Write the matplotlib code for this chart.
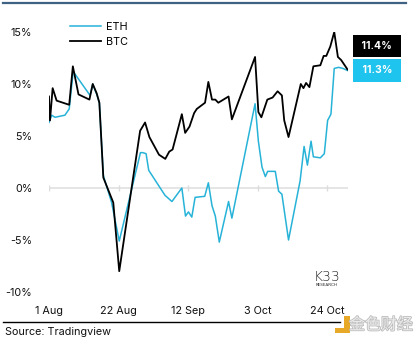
import matplotlib
matplotlib.use('Agg')
import matplotlib.pyplot as plt
import matplotlib.transforms as mtransforms
import matplotlib.patheffects as pe
from matplotlib.lines import Line2D
from matplotlib.patches import Rectangle

# Cumulative return since 1 Aug, in %, against days since 1 Aug
btc_days = [0.0, 0.3, 1.1, 2.3, 6.1, 7.2, 8.9, 12.2, 13.2, 14.4, 15.2, 16.4, 19.4, 21.2,
            27.5, 29.0, 30.3, 33.2, 35.1, 36.3, 37.3, 40.1, 41.1, 42.4, 43.8, 44.6, 47.1,
            48.1, 49.2, 50.2, 51.1, 54.2, 55.2, 62.2, 63.2, 64.1, 65.9, 67.5, 69.0, 70.3,
            71.0, 72.3, 76.0, 76.8, 77.6, 78.6, 79.8, 81.9, 82.9, 83.7, 84.9, 86.1, 87.2,
            88.2, 90.1]
btc_pct = [8.8, 6.5, 9.6, 8.4, 8.0, 11.7, 9.0, 8.5, 10.0, 9.1, 8.2, 1.0, -1.4, -8.0,
           5.5, 6.3, 4.9, 3.2, 2.8, 3.5, 3.7, 7.1, 5.3, 5.9, 7.2, 7.6, 8.2,
           10.2, 8.5, 8.5, 8.2, 8.8, 6.6, 12.6, 7.3, 6.8, 8.5, 8.7, 9.3, 8.9,
           6.5, 4.9, 10.0, 9.6, 10.1, 9.7, 11.7, 11.8, 12.7, 12.7, 13.6, 15.0, 12.6,
           12.3, 11.4]

eth_days = [0.0, 0.8, 1.8, 4.8, 6.1, 7.3, 12.4, 13.2, 14.4, 15.2, 16.4, 18.9, 21.2,
            27.6, 28.3, 29.3, 30.1, 35.0, 37.1, 40.1, 41.2, 42.1, 43.1, 44.1, 47.0,
            48.1, 49.2, 50.2, 51.4, 54.2, 55.2, 62.2, 63.2, 64.3, 65.3, 66.0, 68.3,
            69.3, 70.3, 72.3, 75.8, 77.0, 78.0, 79.1, 79.8, 81.9, 83.1, 84.1, 85.1,
            86.1, 87.4, 88.7, 90.1]
eth_pct = [6.3, 7.0, 6.8, 7.0, 7.6, 11.2, 8.9, 10.0, 9.0, 8.2, 1.2, -1.4, -5.1,
           3.4, 3.4, 3.3, 1.7, -0.7, -1.3, 0.0, -2.7, -2.3, -2.8, -0.9, -0.8,
           0.5, -1.7, -2.7, -5.2, -1.3, -2.9, 8.1, 4.5, 2.0, 1.1, 1.6, 1.6,
           -0.3, -0.6, -5.0, 0.7, 4.0, 2.2, 4.5, 3.0, 2.9, 3.3, 6.5, 7.1,
           11.5, 11.6, 11.5, 11.3]

tick_days = [0, 21, 42, 63, 84]
tick_labels = ['1 Aug', '22 Aug', '12 Sep', '3 Oct', '24 Oct']
y_ticks = [-10, -5, 0, 5, 10, 15]

ETH_COLOR = '#27b3d8'
ETH_BOX = '#1ec3ee'

plt.rcParams['font.family'] = ['Inter', 'DejaVu Sans']

fig = plt.figure(figsize=(4.19, 3.44), dpi=100)
ax = fig.add_axes([49 / 419, 52 / 344, 298.5 / 419, 260 / 344])

ax.axhline(0, color='#e0e0e0', lw=1.2, zorder=1)
ax.plot(tick_days, [0] * len(tick_days), ls='none', marker='|', ms=5,
        mew=1, color='#dcdcdc', zorder=1)

ax.plot(eth_days, eth_pct, color=ETH_COLOR, lw=1.1, label='ETH', zorder=3)
ax.plot(btc_days, btc_pct, color='black', lw=1.3, label='BTC', zorder=4)

ax.set_xlim(min(btc_days), max(btc_days))
ax.set_ylim(-10, 15)
ax.set_xticks(tick_days)
ax.set_xticklabels(tick_labels)
ax.set_yticks(y_ticks)
ax.set_yticklabels([f'{t}%' for t in y_ticks])
ax.tick_params(axis='both', length=0, labelsize=7.8, colors='#111111')
ax.tick_params(axis='x', pad=10)
ax.tick_params(axis='y', pad=12)
for s in ax.spines.values():
    s.set_visible(False)

fig.legend(loc='upper left', bbox_to_anchor=(70 / 419, 1 - 22 / 344),
           frameon=False, fontsize=7.8, handlelength=2.9, handletextpad=0.45,
           labelspacing=0.45, borderpad=0, borderaxespad=0)

# last-value boxes on the right
tr = mtransforms.blended_transform_factory(fig.transFigure, ax.transData)
box_x = 377 / 419
ax.text(box_x, btc_pct[-1] + 2.25, f' {btc_pct[-1]:.1f}% ', transform=tr,
        ha='center', va='center', color='white', fontsize=7.5, fontweight='bold',
        bbox=dict(boxstyle='square,pad=0.62', fc='black', ec='none'), clip_on=False)
ax.text(box_x, eth_pct[-1], f' {eth_pct[-1]:.1f}% ', transform=tr,
        ha='center', va='center', color='white', fontsize=7.5, fontweight='bold',
        bbox=dict(boxstyle='square,pad=0.62', fc=ETH_BOX, ec='none'), clip_on=False)

# header and footer rules
fig.add_artist(Line2D([3 / 419, 406 / 419], [1 - 3 / 344] * 2, color='#3f6182', lw=1.6))
fig.add_artist(Line2D([3 / 419, 340 / 419], [1 - 322 / 344] * 2, color='black', lw=1))

fig.text(5 / 419, 1 - 332 / 344, 'Source: Tradingview', fontsize=7.8, va='center',
         color='#111111')

# K33 logo
fig.text(327 / 419, 1 - 277 / 344, 'K33', fontsize=10, ha='center', va='center',
         color='#222222', family='DejaVu Sans', fontweight='light')
fig.text(327 / 419, 1 - 285 / 344, 'RESEARCH', fontsize=3, ha='center', va='center',
         color='#222222')

# watermark
fig.add_artist(Rectangle((335 / 419, 1 - 333 / 344), 15 / 419, 5 / 344,
                         transform=fig.transFigure, fc='#e8a928', ec='none'))
fig.add_artist(Rectangle((344 / 419, 1 - 330 / 344), 6 / 419, 14 / 344,
                         transform=fig.transFigure, fc='#e8a928', ec='none'))
fig.text(381 / 419, 1 - 325 / 344, '金色财经', fontsize=11.5, ha='center', va='center',
         color='#ebebeb', family=['Noto Sans CJK SC'],
         path_effects=[pe.withStroke(linewidth=1.2, foreground='#bdbdbd')])

fig.savefig('out.png', dpi=100)
